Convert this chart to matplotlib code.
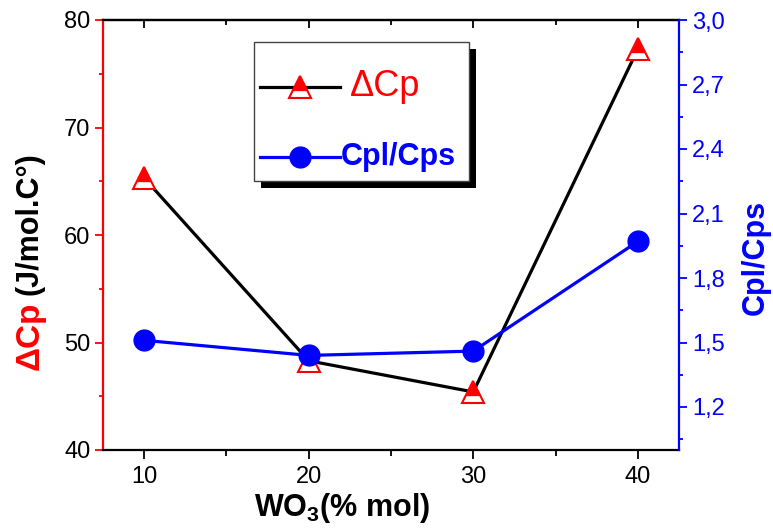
import matplotlib
matplotlib.use("Agg")
import matplotlib.pyplot as plt
from matplotlib.lines import Line2D
from matplotlib.patches import Rectangle
from matplotlib.path import Path
from matplotlib.ticker import MultipleLocator, FixedLocator, FuncFormatter

# Composition (% mol WO3) and measured quantities
wo3 = [10, 20, 30, 40]
delta_cp = [65.3, 48.3, 45.4, 77.3]
cpl_cps = [1.51, 1.44, 1.46, 1.97]

left_ticks = [40, 50, 60, 70, 80]
right_ticks = [1.2, 1.5, 1.8, 2.1, 2.4, 2.7, 3.0]

plt.rcParams['font.family'] = ['Liberation Sans', 'DejaVu Sans']
plt.rcParams['mathtext.fontset'] = 'custom'
plt.rcParams['mathtext.rm'] = 'Liberation Sans:bold'
plt.rcParams['mathtext.bf'] = 'Liberation Sans:bold'

W, H = 773, 531
fig = plt.figure(figsize=(W / 100, H / 100), dpi=100)


def fx(px):
    return px / W


def fy(py):
    return 1 - py / H


# Lower white strip of the half-filled triangle symbol (same frame as '^')
STRIP = Path([(-1, -1), (1, -1), (0.665, -0.33), (-0.665, -0.33), (-1, -1)],
             [Path.MOVETO, Path.LINETO, Path.LINETO, Path.LINETO, Path.CLOSEPOLY])


def half_triangle(target, xs, ys, ms, **kw):
    target.plot(xs, ys, ls='none', marker='^', ms=ms, mfc='red', mec='none', **kw)
    target.plot(xs, ys, ls='none', marker=STRIP, ms=ms, mfc='white', mec='none', **kw)
    target.plot(xs, ys, ls='none', marker='^', ms=ms, mfc='none', mec='red', mew=1.5, **kw)


ax = fig.add_axes([fx(103), fy(450), fx(679) - fx(103), fy(20) - fy(450)])
ax2 = ax.twinx()

# Delta Cp on the left axis
ax.plot(wo3, delta_cp, color='black', lw=2.3, zorder=2)
half_triangle(ax, wo3, delta_cp, 16, zorder=3)
ax.set_xlim(7.5, 42.5)
ax.set_ylim(40, 80)
ax.yaxis.set_major_locator(FixedLocator(left_ticks))
ax.yaxis.set_minor_locator(MultipleLocator(5))
ax.xaxis.set_major_locator(MultipleLocator(10))
ax.xaxis.set_minor_locator(MultipleLocator(5))

# Cpl/Cps on the right axis
ax2.plot(wo3, cpl_cps, color='blue', lw=2.3, marker='o', ms=15,
         mfc='blue', mec='blue', zorder=3)
ax2.set_ylim(1.0, 3.0)
ax2.yaxis.set_major_locator(FixedLocator(right_ticks))
ax2.yaxis.set_minor_locator(FixedLocator([v - 0.15 for v in right_ticks]))
ax2.yaxis.set_major_formatter(FuncFormatter(lambda v, p: f"{v:.1f}".replace('.', ',')))

# Spines
for s in list(ax.spines.values()) + list(ax2.spines.values()):
    s.set_linewidth(1.6)
ax.spines['left'].set_color('red')
ax.spines['right'].set_visible(False)
ax.spines['top'].set_color('black')
ax.spines['bottom'].set_color('black')
ax2.spines['right'].set_color('blue')
ax2.spines['left'].set_visible(False)
ax2.spines['top'].set_visible(False)
ax2.spines['bottom'].set_visible(False)

ax.tick_params(axis='y', which='major', direction='out', length=6, width=1.3,
               color='red', labelsize=17, labelcolor='black', pad=3)
ax.tick_params(axis='y', which='minor', direction='out', length=3.2, width=1.3,
               color='red')
ax.tick_params(axis='x', which='major', direction='out', length=6.5, width=1.3,
               color='black', labelsize=17, labelcolor='black', pad=5)
ax.tick_params(axis='x', which='minor', direction='out', length=4, width=1.3,
               color='black')

top = ax.secondary_xaxis('top')
top.xaxis.set_major_locator(MultipleLocator(10))
top.xaxis.set_minor_locator(MultipleLocator(5))
top.tick_params(which='major', direction='in', length=6, width=1.3, labeltop=False)
top.tick_params(which='minor', direction='in', length=3.5, width=1.3)
top.spines['top'].set_linewidth(1.6)

ax2.tick_params(axis='y', which='major', direction='out', length=5.5, width=1.3,
                color='blue', labelsize=17, labelcolor='blue', pad=4)
ax2.tick_params(axis='y', which='minor', direction='out', length=3.2, width=1.3,
                color='blue')

# Axis titles
fig.text(fx(342), fy(508), r'WO$_{\mathbf{3}}$(% mol)', fontsize=22,
         fontweight='bold', ha='center', va='center')
t1 = fig.text(fx(30), fy(370), '\u0394Cp', fontsize=24, fontweight='bold',
              color='red', rotation=90, rotation_mode='anchor', ha='left', va='center')
renderer = fig.canvas.get_renderer()
ext = t1.get_window_extent(renderer)
fig.text(fx(30), (ext.y1 + 7) / H, '(J/mol.C\u00b0)', fontsize=22, fontweight='bold',
         color='black', rotation=90, rotation_mode='anchor', ha='left', va='center')
fig.text(fx(756), fy(257), 'Cpl/Cps', fontsize=22, fontweight='bold',
         color='blue', rotation=90, ha='center', va='center')

# Legend with drop shadow
fig.patches.append(Rectangle((fx(261), fy(188)), fx(476) - fx(261), fy(49) - fy(188),
                             transform=fig.transFigure, facecolor='black',
                             edgecolor='none', zorder=10))
fig.patches.append(Rectangle((fx(254), fy(181)), fx(469) - fx(254), fy(42) - fy(181),
                             transform=fig.transFigure, facecolor='white',
                             edgecolor='#444444', lw=1.0, zorder=11))
fig.lines.append(Line2D([fx(260), fx(340)], [fy(87), fy(87)], transform=fig.transFigure,
                        color='black', lw=2.3, zorder=12))
for mk, fc, ec in (('^', 'red', 'none'), (STRIP, 'white', 'none'), ('^', 'none', 'red')):
    fig.lines.append(Line2D([fx(300)], [fy(87)], transform=fig.transFigure, marker=mk,
                            ms=16, mfc=fc, mec=ec, mew=1.5, ls='none', zorder=13))
fig.text(fx(350), fy(87), '\u0394Cp', fontsize=26, color='red', ha='left',
         va='center', zorder=14)
fig.lines.append(Line2D([fx(260), fx(340)], [fy(157), fy(157)], transform=fig.transFigure,
                        color='blue', lw=2.3, zorder=12))
fig.lines.append(Line2D([fx(300)], [fy(157)], transform=fig.transFigure, marker='o',
                        ms=15, mfc='blue', mec='blue', ls='none', zorder=13))
fig.text(fx(341), fy(157), 'Cpl/Cps', fontsize=22, fontweight='bold', color='blue',
         ha='left', va='center', zorder=14)

fig.savefig('out.png', dpi=100)
